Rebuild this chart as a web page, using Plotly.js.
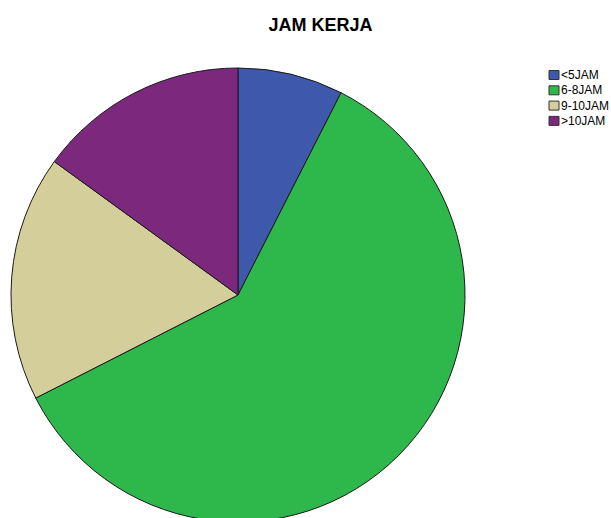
<!DOCTYPE html>
<html>
<head>
<meta charset="utf-8">
<script src="https://cdn.plot.ly/plotly-3.0.1.min.js"></script>
<style>
html,body{margin:0;padding:0;overflow:hidden;background:#fff;}
#chart{width:611px;height:540px;}
</style>
</head>
<body>
<div id="chart"></div>
<script>
var categories = ["<5JAM", "6-8JAM", "9-10JAM", ">10JAM"];
var counts = [3, 24, 7, 6];
var colors = ["#3E58AC", "#2EB84B", "#D4CE9A", "#7B287D"];
var chartTitle = "JAM KERJA";

var W = 611, H = 540;
function px(x){ return x / W; }
function py(y){ return 1 - y / H; }

var trace = {
  type: "pie",
  labels: categories,
  values: counts,
  sort: false,
  direction: "clockwise",
  rotation: 0,
  textinfo: "none",
  hoverinfo: "label+value+percent",
  marker: { colors: colors, line: { color: "#1a1a1a", width: 1 } },
  domain: { x: [px(11), px(465)], y: [py(522), py(68)] },
  showlegend: false
};

// custom legend (SPSS style): swatch + label
var legX = 549, legY0 = 75, legStep = 15.3;
var shapes = [], annotations = [];
categories.forEach(function(c, i){
  var cy = legY0 + i * legStep;
  shapes.push({
    type: "rect", xref: "paper", yref: "paper",
    x0: px(legX), x1: px(legX + 10), y0: py(cy + 4.5), y1: py(cy - 4.5),
    fillcolor: colors[i], line: { color: "#333", width: 1 }
  });
  annotations.push({
    xref: "paper", yref: "paper", x: px(legX + 10), y: py(cy),
    xanchor: "left", yanchor: "middle", showarrow: false,
    text: c, font: { family: "Liberation Sans, Arial, sans-serif", size: 12, color: "#000" }
  });
});

var layout = {
  width: W, height: H,
  margin: { l: 0, r: 0, t: 0, b: 0, autoexpand: false },
  paper_bgcolor: "#fff",
  title: {
    text: "<b>" + chartTitle + "</b>",
    font: { family: "Liberation Sans, Arial, sans-serif", size: 18, color: "#000" },
    x: px(320.5), xanchor: "center", xref: "paper",
    y: py(25), yanchor: "middle", yref: "container"
  },
  shapes: shapes,
  annotations: annotations,
  showlegend: false
};

Plotly.newPlot("chart", [trace], layout, { displayModeBar: false });
</script>
</body>
</html>
